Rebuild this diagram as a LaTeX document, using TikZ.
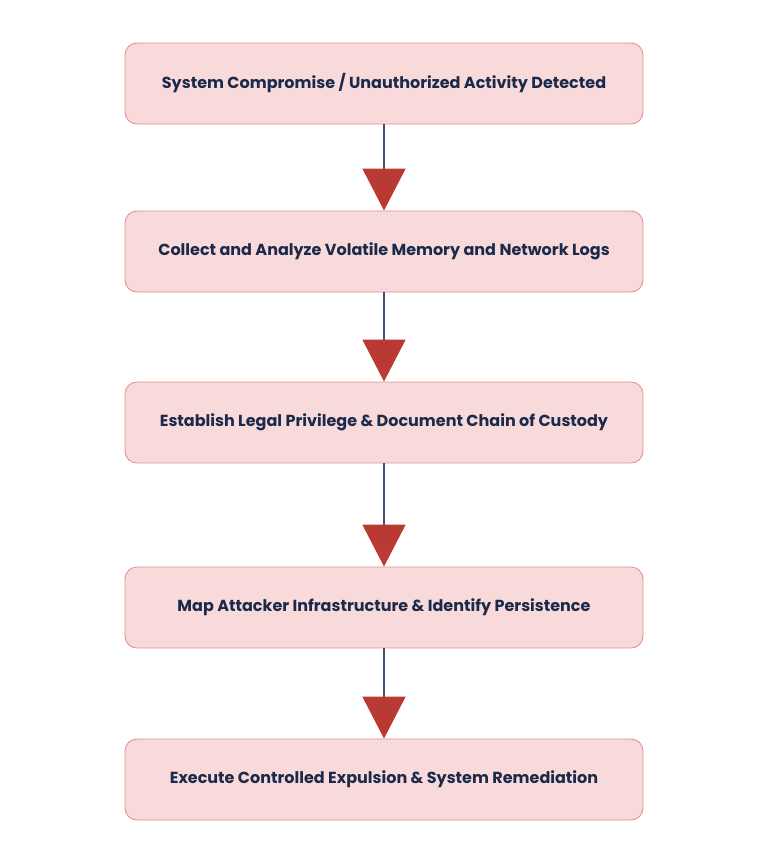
\documentclass[tikz,border=0pt]{standalone}
\usepackage{fontspec}
\setmainfont{Poppins}
\usetikzlibrary{arrows.meta}
\definecolor{boxfill}{HTML}{F8DADB}
\definecolor{boxline}{HTML}{E8908F}
\definecolor{txt}{HTML}{1B2A4A}
\definecolor{linec}{HTML}{3E5477}
\definecolor{tipc}{HTML}{B93A32}
\tikzset{
  stage/.style={draw=boxline, fill=boxfill, line width=0.9pt, rounded corners=12pt,
    minimum width=518pt, minimum height=81pt, inner sep=0pt,
    font=\bfseries\fontsize{16}{19}\selectfont, text=txt},
  flow/.style={draw=linec, line width=1.7pt,
    -{Triangle[width=43pt,length=42pt,color=tipc,fill=tipc]}}
}
\begin{document}
\begin{tikzpicture}[x=1pt,y=-1pt]
\useasboundingbox (0,0) rectangle (768,847);
\node[stage] (s1) at (384,83.5) {System Compromise / Unauthorized Activity Detected};
\node[stage] (s2) at (384,251.5) {Collect and Analyze Volatile Memory and Network Logs};
\node[stage] (s3) at (384,422.5) {Establish Legal Privilege \& Document Chain of Custody};
\node[stage] (s4) at (384,607.5) {Map Attacker Infrastructure \& Identify Persistence};
\node[stage] (s5) at (384,779.5) {Execute Controlled Expulsion \& System Remediation};
\draw[flow] (s1.south) -- (s2.north);
\draw[flow] (s2.south) -- (s3.north);
\draw[flow] (s3.south) -- (s4.north);
\draw[flow] (s4.south) -- (s5.north);
\end{tikzpicture}
\end{document}
